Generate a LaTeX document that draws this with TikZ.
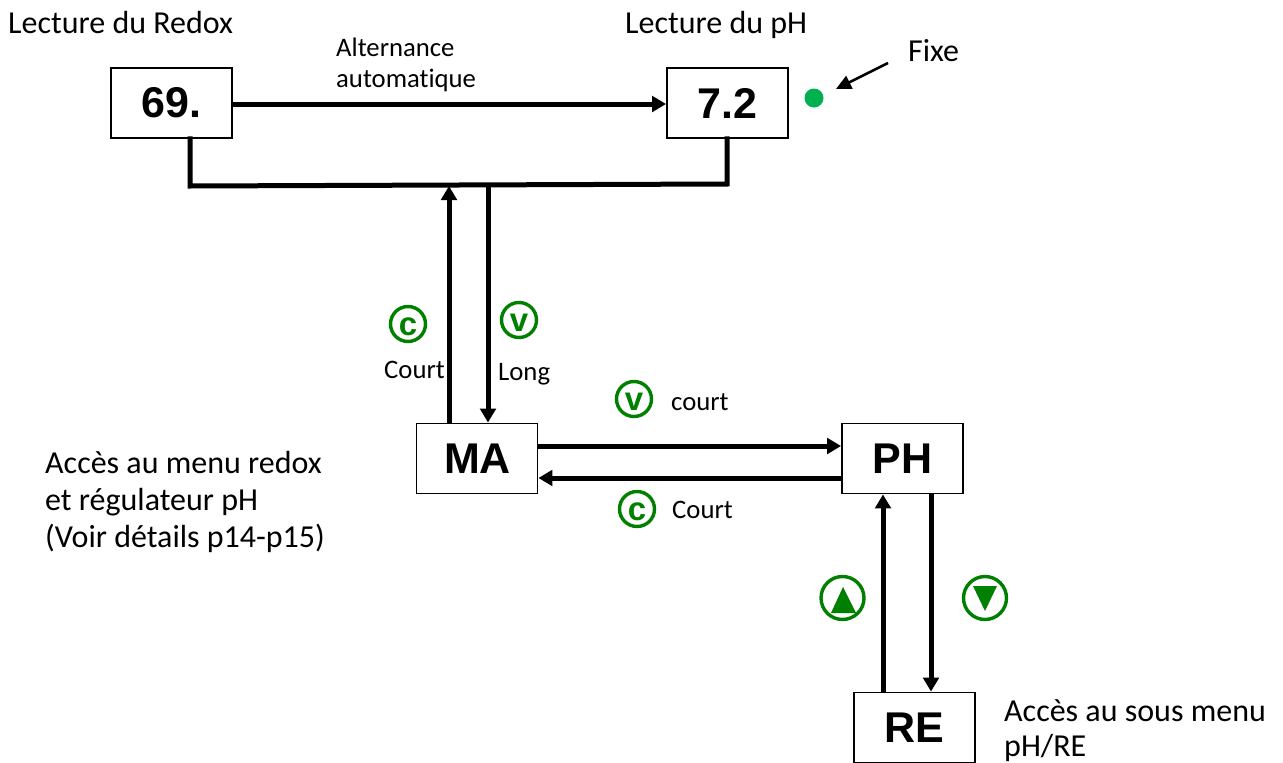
\documentclass[tikz,border=0pt]{standalone}
\usepackage{fontspec}
\setmainfont[Ligatures=NoCommon]{Carlito}
\newfontfamily\arialf{Liberation Sans}
\usetikzlibrary{arrows.meta}
\definecolor{btn}{HTML}{008000}
\definecolor{led}{HTML}{00B050}
\tikzset{
  x=1pt,y=-1pt,
  box/.style={draw,line width=1.8pt,minimum width=121pt,minimum height=70pt,inner sep=0pt,font=\arialf\bfseries\fontsize{43}{43}\selectfont},
  conn/.style={line width=5pt,-{Triangle[length=14pt,width=15.5pt]}},
  bar/.style={line width=5pt,line cap=rect},
  txt/.style={anchor=base west,inner sep=0pt,yshift=-0.8pt,font=\fontsize{32}{32}\selectfont},
  stxt/.style={anchor=base west,inner sep=0pt,yshift=-0.8pt,font=\fontsize{26.7}{26.7}\selectfont},
  btnc/.style={circle,draw=btn,line width=3.4pt,minimum size=35pt,inner sep=0pt,text=btn,font=\arialf\bfseries\fontsize{33}{33}\selectfont},
  btnb/.style={circle,draw=btn,line width=3.4pt,minimum size=43pt,inner sep=0pt},
  tri/.style={fill=btn,draw=none},
}
\newcommand{\btnletter}[1]{\raisebox{-3pt}[\height][0pt]{#1}}
\begin{document}
\begin{tikzpicture}
\useasboundingbox (0,0) rectangle (1283,763);
\node[box] (redox) at (171.5,103) {69.};
\node[box] (ph) at (727.5,103) {7.2};
\node[box] (ma) at (477,458.5) {\hspace{1pt}MA};
\node[box] (phm) at (902.5,458.5) {PH};
\node[box] (re) at (914.5,727.5) {RE};
% bus
\coordinate (b1) at (190,186);
\coordinate (b2) at (727,184);
\coordinate (up) at (449,186);
\coordinate (dn) at (488,185);
\draw[bar] (redox.south -| b1) -- (b1) -- (b2) -- (ph.south -| b2);
\draw[conn] (redox.east |- 0,104) -- (ph.west |- 0,104);
\draw[conn] (ma.north -| up) -- (up);
\draw[conn] (dn) -- (ma.north -| dn);
\draw[conn] (ma.east |- 0,446) -- (phm.west |- 0,446);
\draw[conn] (phm.west |- 0,478) -- (ma.east |- 0,478);
\draw[conn] (re.north -| 883,0) -- (phm.south -| 883,0);
\draw[conn] (phm.south -| 931,0) -- (re.north -| 931,0);
% led
\node[circle,fill=led,minimum size=19pt,inner sep=0pt] (dot) at (814,98) {};
\coordinate (fx) at (888,63);
\coordinate (fy) at (836,89);
\draw[line width=2.6pt,-{Triangle[length=15pt,width=14pt]}] (fx) -- (fy);
% buttons
\node[btnc] (c1) at (408,324) {\btnletter{c}};
\node[btnc] (v1) at (519,320) {\btnletter{v}};
\node[btnc] (v2) at (634,399) {\btnletter{v}};
\node[btnc] (c2) at (637,509) {\btnletter{c}};
\node[btnb] (u) at (842.5,598) {};
\node[btnb] (d) at (985,598) {};
\fill[tri] (843,587) -- (856,613) -- (831,613) -- cycle;
\fill[tri] (973,586) -- (997,586) -- (985,611) -- cycle;
% texts
\node[txt] (t1) at (8,33) {Lecture du Redox};
\node[txt] (t2) at (625,33) {Lecture du pH};
\node[txt] (t3) at (908,61) {Fixe};
\node[stxt] (t4) at (336,56) {Alternance};
\node[stxt] (t5) at (336,87) {automatique};
\node[stxt] (t6) at (384,378) {Court};
\node[stxt] (t7) at (498,380) {Long};
\node[stxt] (t8) at (671,410) {court};
\node[stxt] (t9) at (672,518) {Court};
\node[txt] (t10) at (45,473) {Accès au menu redox};
\node[txt] (t11) at (45,510) {et régulateur pH};
\node[txt] (t12) at (45,547) {(Voir détails p14-p15)};
\node[txt] (t13) at (1004,721) {Accès au sous menu};
\node[txt] (t14) at (1004,755.5) {pH/RE};
\end{tikzpicture}
\end{document}
